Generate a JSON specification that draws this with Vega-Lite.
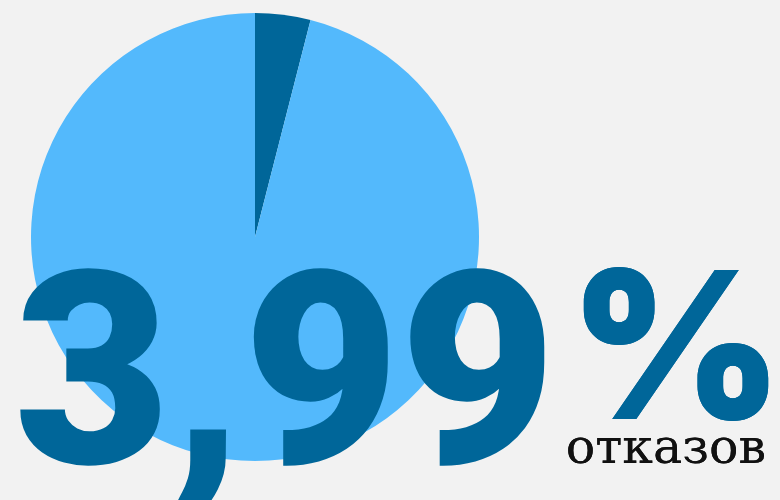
{
  "$schema": "https://vega.github.io/schema/vega-lite/v6.json",
  "width": 780,
  "height": 500,
  "autosize": {"type": "fit", "contains": "padding"},
  "padding": 0,
  "background": "#f2f2f2",
  "config": {"view": {"stroke": null}, "locale": {"number": {"decimal": ",", "thousands": " ", "grouping": [3], "currency": ["", ""], "percent": "%"}}},
  "data": {"values": [
    {"category": "отказы", "value": 3.99, "order": 1},
    {"category": "остальные", "value": 96.01, "order": 2}
  ]},
  "layer": [
    {
      "mark": {"type": "rule", "x": 254, "x2": 780, "y": 329, "color": "#ffffff", "strokeWidth": 2},
      "encoding": {}
    },
    {
      "mark": {"type": "arc", "outerRadius": 224, "x": 254, "y": 236},
      "encoding": {
        "theta": {"field": "value", "type": "quantitative", "stack": true},
        "order": {"field": "order", "type": "quantitative"},
        "color": {"field": "category", "type": "nominal", "scale": {"domain": ["отказы", "остальные"], "range": ["#006699", "#53b9fc"]}, "legend": null}
      }
    },
    {
      "transform": [{"filter": "datum.order == 1"}],
      "mark": {"type": "text", "x": 13, "y": 462, "align": "left", "baseline": "alphabetic", "font": "Roboto", "fontWeight": 900, "fontSize": 270, "color": "#006699"},
      "encoding": {"text": {"field": "value", "type": "quantitative", "format": ".2f"}}
    },
    {
      "mark": {"type": "text", "x": 568, "y": 418, "align": "left", "baseline": "alphabetic", "font": "Inter", "fontWeight": 900, "fontSize": 205, "color": "#006699", "text": "%"},
      "encoding": {}
    },
    {
      "mark": {"type": "text", "x": 765, "y": 462, "align": "right", "baseline": "alphabetic", "font": "DejaVu Serif", "fontSize": 49, "color": "#111111", "text": "отказов"},
      "encoding": {}
    }
  ]
}
